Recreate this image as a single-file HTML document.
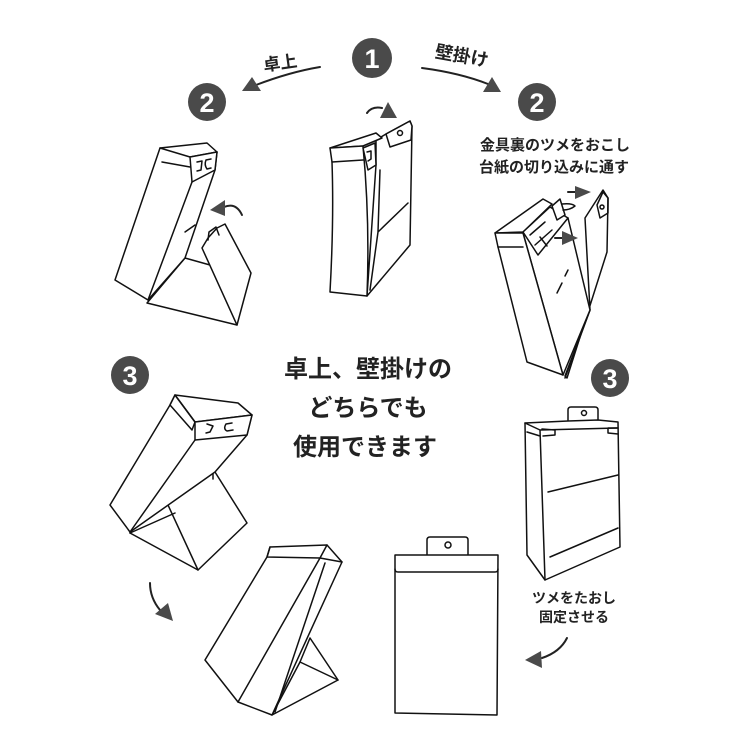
<!DOCTYPE html>
<html><head><meta charset="utf-8"><style>
html,body{margin:0;padding:0;background:#fff;}
svg{display:block;}
.l{fill:#fff;stroke:#111;stroke-width:1.5;stroke-linejoin:round;stroke-linecap:round;}
.n{fill:none;stroke:#111;stroke-width:1.5;stroke-linejoin:round;stroke-linecap:round;}
.a{fill:none;stroke:#222;stroke-width:2;stroke-linecap:round;}
.t{fill:#4a4a4a;stroke:none;}
.c{fill:#4a4a4a;}
.num{font-family:"Liberation Sans",sans-serif;font-weight:bold;font-size:27px;fill:#fff;text-anchor:middle;}
.jp{font-family:"Liberation Sans","Noto Sans CJK JP",sans-serif;font-weight:bold;fill:#222;text-anchor:middle;}
</style></head><body>
<svg width="750" height="750" viewBox="0 0 750 750" xmlns="http://www.w3.org/2000/svg">
<rect width="750" height="750" fill="#fff"/>

<!-- circles -->
<circle class="c" cx="372" cy="58" r="20"/><text class="num" x="372" y="68">1</text>
<circle class="c" cx="207" cy="102" r="19"/><text class="num" x="207" y="112">2</text>
<circle class="c" cx="537" cy="102" r="19"/><text class="num" x="537" y="112">2</text>
<circle class="c" cx="130" cy="375" r="19"/><text class="num" x="130" y="385">3</text>
<circle class="c" cx="610" cy="378" r="19"/><text class="num" x="610" y="388">3</text>

<!-- top labels -->
<text class="jp" x="280" y="69" font-size="17" transform="rotate(-8 280 62)">卓上</text>
<text class="jp" x="462" y="62" font-size="18" transform="rotate(10 462 55)">壁掛け</text>

<!-- top arrows -->
<path class="a" d="M320,67 Q290,72 256,85"/>
<polygon class="t" points="242,91 252,77 261,91"/>
<path class="a" d="M422,68 Q460,73 488,84"/>
<polygon class="t" points="483,92 492,77 501,92"/>
<path class="a" d="M367,113 Q372,106 382,108"/>
<polygon class="t" points="380,118 388,102 397,118"/>

<!-- right instruction text -->
<text class="jp" x="555" y="150" font-size="15">金具裏のツメをおこし</text>
<text class="jp" x="554" y="172" font-size="15">台紙の切り込みに通す</text>

<!-- center text -->
<text class="jp" x="368" y="377" font-size="24">卓上、壁掛けの</text>
<text class="jp" x="368" y="416" font-size="24">どちらでも</text>
<text class="jp" x="365" y="455" font-size="24">使用できます</text>

<!-- bottom right text -->
<text class="jp" x="574" y="603" font-size="14">ツメをたおし</text>
<text class="jp" x="574" y="622" font-size="14">固定させる</text>

<!-- ============ L2 figure ============ -->
<polygon class="l" points="147,303 185,258 210,265 237,325"/>
<polygon class="l" points="160,148 207,143 217,152 215,170 185,258 148,300 115,280 Q140,220 162,162"/>
<polyline class="n" points="160,148 190,157 217,152"/>
<polyline class="n" points="162,162 190,167"/>
<polygon class="l" points="190,157 217,152 215,170 192,182"/>
<path class="n" d="M192,182 L148,300"/>
<path class="n" d="M197,162 l5,-1 l-1,9 l-4,1 M206,160 l5,-1 M206,160 q-2,5 1,9 l4,-1"/>
<polygon class="l" points="202,248 208,238 217,228 225,224 251,273 237,325"/>
<path class="n" d="M208,240 L209,232 L216,227 L219,235"/>
<path class="n" d="M185,232 L195,225"/>
<path class="a" d="M242,215 Q236,202 224,207"/>
<polygon class="t" points="210,210 225,200 225,216"/>

<!-- ============ M2 figure ============ -->
<path class="l" d="M376,140 L386,134 L410,121 L412,126 L410,245 L367,296 L376,165 Z"/>
<polygon class="l" points="330,148 376,133 382,138 363,146"/>
<path class="l" d="M330,148 L363,146 Q370,220 367,296 L330,292 Q334,220 332,162 Z"/>
<path class="n" d="M332,162 L363,160"/>
<polygon class="l" points="363,148 375,143 376,165 368,170"/>
<path class="n" d="M367,152 l4,-1 l0,8 l-3,2"/>
<path class="l" d="M386,134 L410,121 L412,126 L411,140 L390,147 Z"/>
<circle class="n" cx="400" cy="133" r="2.5"/>
<path class="n" d="M380,170 L378,232 L370,290 M378,232 L408,203"/>

<!-- ============ R2 figure ============ -->
<path class="l" d="M585,218 L603,190 L608,198 L607,252 L567,378 L565,376 L590,310 Z"/>
<path class="n" d="M590,310 L565,378"/>
<path class="n" d="M597,205 L603,192 L608,198 L608,213 L600,218 Z"/>
<circle class="n" cx="602" cy="207" r="2"/>
<path class="l" d="M523,233 L568,218 L590,310 L563,375 Z"/>
<polygon class="l" points="495,233 543,199 552,204 523,232"/>
<path class="l" d="M495,233 L523,233 L563,375 L527,362 L498,247 Z"/>
<path class="n" d="M498,247 L523,247"/>
<polygon class="l" points="523,232 550,207 568,218 538,255"/>
<path class="n" d="M530,235 L545,222 M535,245 L552,230 M540,237 L547,246"/>
<polygon class="l" points="552,206 560,199 565,215 557,220"/>
<path class="n" d="M562,204 Q572,203 575,206 Q570,210 563,210"/>
<path class="a" d="M568,192 L577,192"/>
<polygon class="t" points="575,186 591,192 575,199"/>
<path class="a" d="M555,238 L564,238"/>
<polygon class="t" points="562,231 578,238 562,245"/>
<path class="n" d="M557,293 L562,283 M565,276 L568,270"/>

<!-- ============ L3 figure ============ -->
<polygon class="l" points="130,533 162,492 215,472 247,523 198,570"/>
<path class="n" d="M130,533 L175,513 M162,492 L198,570"/>
<path class="n" d="M174,490 L174,497 M213,473 L213,479"/>
<path class="l" d="M175,395 L238,403 L252,415 L247,435 L215,472 L130,532 L110,505 L170,405 Z"/>
<polygon class="l" points="175,395 195,422 192,430 170,405"/>
<path class="n" d="M175,395 L195,422 L252,415"/>
<polygon class="l" points="195,422 252,415 247,435 195,440"/>
<path class="n" d="M195,440 L130,532"/>
<path class="n" d="M207,424 l6,2 l-3,6 l-4,1 M226,424 l6,-1 M226,424 q-3,5 1,7 l6,-1"/>
<path class="a" d="M150,583 Q150,598 160,610"/>
<polygon class="t" points="155,614 168,603 173,621"/>

<!-- ============ B3 figure ============ -->
<polygon class="l" points="310,638 338,680 272,715 300,662"/>
<path class="n" d="M300,662 L338,680"/>
<path class="l" d="M270,547 L327,545 L342,562 L272,715 L238,702 L205,660 L267,557 Z"/>
<path class="n" d="M270,547 L267,557 L320,558 L342,562 M320,558 L327,545 M320,558 L238,702 M325,563 L275,712"/>

<!-- ============ hanging card ============ -->
<path class="l" d="M427,555 L427,540 Q427,537 430,537 L465,537 Q468,537 468,540 L468,555"/>
<circle class="n" cx="448" cy="545" r="3"/>
<path class="l" d="M395,555 L498,555 L497,715 L395,713 Z"/>
<path class="n" d="M395,569 Q395,572 398,572 L495,572 Q498,572 498,569"/>

<!-- ============ R3 hanging box ============ -->
<path class="l" d="M568,422 L568,410 Q568,407 571,407 L595,407 Q598,407 598,410 L598,420"/>
<circle class="n" cx="584" cy="413" r="2.5"/>
<path class="l" d="M525,423 L568,421 L598,420 L618,422 L620,547 L545,580 L527,555 Z"/>
<path class="n" d="M525,423 L540,430 L617,428 M540,430 L545,580 M527,432 L540,436"/>
<path class="n" d="M542,429 L555,430 L555,435 L543,436 M608,428 L618,428 M608,428 L608,433 L618,434"/>
<path class="n" d="M548,492 L618,475 M550,557 L618,528"/>
<path class="a" d="M567,638 Q560,652 542,658"/>
<polygon class="t" points="525,660 541,651 542,668"/>
</svg>
</body></html>
